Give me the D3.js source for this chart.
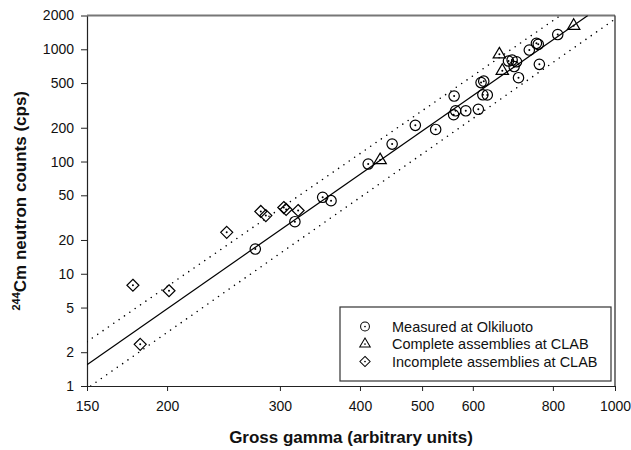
<!DOCTYPE html>
<html>
<head>
<meta charset="utf-8">
<script src="https://cdn.jsdelivr.net/npm/d3@7"></script>
<style>
  html, body { margin: 0; padding: 0; background: #fff; }
  svg { display: block; font-family: Arial, "Liberation Sans", sans-serif; }
</style>
</head>
<body>
<svg id="chart" width="631" height="450"></svg>
<script>
// Gross gamma (x) vs 244Cm neutron counts (y), three measurement groups
const olkiluotoX = [274.6, 316.6, 349.8, 360.5, 412, 449, 488, 525, 561, 564, 560, 585, 612,
                    618, 624, 622, 632, 682, 691, 702, 696, 707, 735, 754, 759, 762, 814];
const olkiluotoY = [16.6, 29.1, 48.0, 44.8, 95, 143, 210, 193, 383, 283, 261, 283, 292,
                    505, 520, 393, 392, 786, 802, 774, 702, 558, 984, 1130, 1107, 734, 1353];

const completeX = [430, 660, 667, 862];
const completeY = [103, 901, 644, 1621];

const incompleteX = [176.9, 181.6, 201.4, 247.8, 280.1, 285.2, 304.2, 306.8, 320.3];
const incompleteY = [7.9, 2.35, 7.06, 23.4, 35.9, 33.0, 38.9, 37.4, 36.6];

// Fitted line and its band (end points)
const fitX = [150, 907];
const fitY = [1.55, 2000];
const upperX = [150, 822];
const upperY = [2.48, 2000];
const lowerX = [152, 1000];
const lowerY = [1, 1860];

const xTicks = [150, 200, 300, 400, 500, 600, 800, 1000];
const yTicks = [1, 2, 5, 10, 20, 50, 100, 200, 500, 1000, 2000];

const legendLabels = ["Measured at Olkiluoto", "Complete assemblies at CLAB", "Incomplete assemblies at CLAB"];

const svg = d3.select("#chart");
const m = { left: 87, top: 15.5, right: 615, bottom: 386 };

const x = d3.scaleLog().domain([150, 1000]).range([m.left, m.right]);
const y = d3.scaleLog().domain([1, 2000]).range([m.bottom, m.top]);

svg.append("clipPath").attr("id", "plotClip")
  .append("rect")
  .attr("x", m.left).attr("y", m.top)
  .attr("width", m.right - m.left).attr("height", m.bottom - m.top);

// Axes
const xAxis = svg.append("g")
  .attr("transform", `translate(0,${m.bottom})`)
  .call(d3.axisBottom(x).tickValues(xTicks).tickFormat(d3.format("d")).tickSize(5).tickSizeOuter(0));
const yAxis = svg.append("g")
  .attr("transform", `translate(${m.left},0)`)
  .call(d3.axisLeft(y).tickValues(yTicks).tickFormat(d3.format("d")).tickSize(6).tickSizeOuter(0));

[xAxis, yAxis].forEach(g => {
  g.select(".domain").attr("stroke", "#222").attr("stroke-width", 1.2);
  g.selectAll(".tick line").attr("stroke", "#222").attr("stroke-width", 1);
  g.selectAll(".tick text").attr("fill", "#111").style("font-size", "14px")
    .style("font-family", "Arial, 'Liberation Sans', sans-serif");
});
xAxis.selectAll(".tick text").attr("dy", "0.71em").attr("y", 15);
yAxis.selectAll(".tick text").attr("x", -13);

// Frame top and right
svg.append("line").attr("x1", m.left).attr("x2", m.right).attr("y1", m.top).attr("y2", m.top)
  .attr("stroke", "#777").attr("stroke-width", 2);
svg.append("line").attr("x1", m.right).attr("x2", m.right).attr("y1", m.top).attr("y2", m.bottom)
  .attr("stroke", "#333").attr("stroke-width", 1.3);

// Fit line and band
const plot = svg.append("g").attr("clip-path", "url(#plotClip)");
const lineGen = d3.line().x(d => x(d[0])).y(d => y(d[1]));
plot.append("path").datum(d3.zip(fitX, fitY)).attr("d", lineGen)
  .attr("fill", "none").attr("stroke", "#000").attr("stroke-width", 1.2);
[[upperX, upperY], [lowerX, lowerY]].forEach(([bx, by]) => {
  plot.append("path").datum(d3.zip(bx, by)).attr("d", lineGen)
    .attr("fill", "none").attr("stroke", "#000").attr("stroke-width", 1.6)
    .attr("stroke-linecap", "round").attr("stroke-dasharray", "0,6.5");
});

// Marker drawing
function marker(g, kind, cx, cy) {
  const s = g.append("g").attr("transform", `translate(${cx},${cy})`);
  if (kind === "circle") {
    s.append("circle").attr("r", 5.2);
  } else if (kind === "triangle") {
    s.append("path").attr("d", "M0,-7 L6.2,3.6 L-6.2,3.6 Z");
  } else {
    s.append("path").attr("d", "M0,-6 L6,0 L0,6 L-6,0 Z");
  }
  s.selectAll("circle,path").attr("fill", "none").attr("stroke", "#000").attr("stroke-width", 1.2);
  s.append("circle").attr("r", 1).attr("fill", "#000");
  return s;
}

const pts = svg.append("g");
d3.zip(incompleteX, incompleteY).forEach(d => marker(pts, "diamond", x(d[0]), y(d[1])));
d3.zip(completeX, completeY).forEach(d => marker(pts, "triangle", x(d[0]), y(d[1])));
d3.zip(olkiluotoX, olkiluotoY).forEach(d => marker(pts, "circle", x(d[0]), y(d[1])));

// Legend
const lg = svg.append("g");
lg.append("rect").attr("x", 340).attr("y", 307).attr("width", 271).attr("height", 74)
  .attr("fill", "#fff").attr("stroke", "#333").attr("stroke-width", 1.2);
const kinds = ["circle", "triangle", "diamond"];
legendLabels.forEach((t, i) => {
  const yy = 326.5 + i * 17.5;
  marker(lg, kinds[i], 365, yy).attr("transform", `translate(365,${yy}) scale(0.85)`);
  lg.append("text").attr("x", 392).attr("y", yy).attr("dy", "0.36em")
    .style("font-size", "14.5px").attr("fill", "#111").text(t);
});

// Axis titles
svg.append("text").attr("x", (m.left + m.right) / 2).attr("y", 443)
  .attr("text-anchor", "middle").style("font-size", "17px").style("font-weight", "bold")
  .attr("fill", "#111").text("Gross gamma (arbitrary units)");

const yt = svg.append("text")
  .attr("transform", `translate(26,${(m.top + m.bottom) / 2}) rotate(-90)`)
  .attr("text-anchor", "middle").style("font-size", "17px").style("font-weight", "bold")
  .attr("fill", "#111");
yt.append("tspan").attr("baseline-shift", "super").style("font-size", "11px").text("244");
yt.append("tspan").text("Cm neutron counts (cps)");
</script>
</body>
</html>
